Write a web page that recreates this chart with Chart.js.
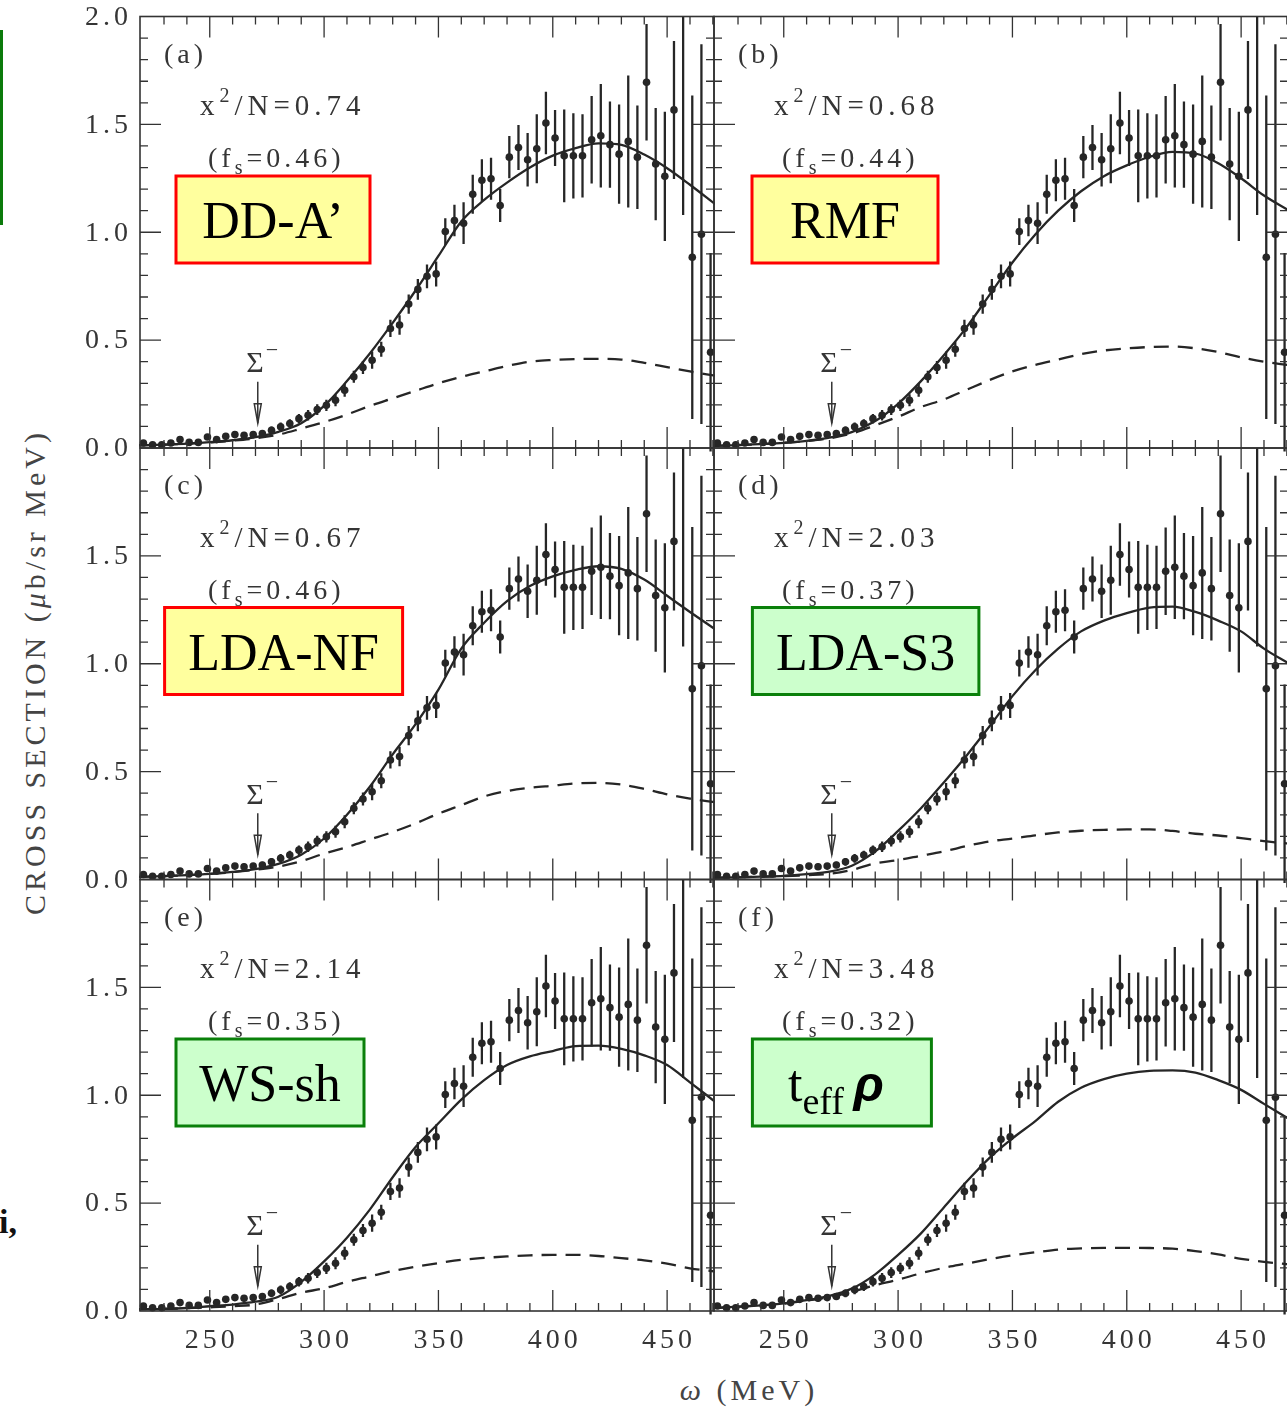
<!DOCTYPE html>
<html>
<head>
<meta charset="utf-8">
<script src="https://cdn.jsdelivr.net/npm/chart.js@4.4.1/dist/chart.umd.min.js"></script>
<style>
  html, body { margin: 0; padding: 0; background: #fff; overflow: hidden; width: 1287px; height: 1408px; }
  canvas { position: absolute; left: 0; top: 0; }
  #edgeBox { position: absolute; left: 0; top: 30px; width: 3px; height: 195px; background: #0b7a0b; }
  #edgeText { position: absolute; left: -1px; top: 1203px; font: bold 34px "Liberation Serif", serif; color: #111; }
  #yTitle { position: absolute; left: 35px; top: 672px; transform: translate(-50%, -50%) rotate(-90deg);
            white-space: nowrap; font: 30px "Liberation Serif", serif; letter-spacing: 4px; color: #444; }
  #xTitle { position: absolute; left: 749px; top: 1390px; transform: translate(-50%, -50%);
            white-space: nowrap; font: 30px "Liberation Serif", serif; letter-spacing: 4px; color: #444; }
</style>
</head>
<body>
<div id="edgeBox"></div>
<div id="edgeText">i,</div>
<div id="yTitle">CROSS SECTION (<i>μ</i>b/sr MeV)</div>
<div id="xTitle"><i>ω</i> (MeV)</div>
<canvas id="p0" width="1300" height="1408"></canvas>
<canvas id="p1" width="1300" height="1408"></canvas>
<canvas id="p2" width="1300" height="1408"></canvas>
<canvas id="p3" width="1300" height="1408"></canvas>
<canvas id="p4" width="1300" height="1408"></canvas>
<canvas id="p5" width="1300" height="1408"></canvas>
<script>
// ---- measured spectrum (same data in every panel) ----
const omega = [221,225,229,233,237,241,245,249,253,257,261,265,269,273,277,281,285,289,293,297,
               301,305,309,313,317,321,325,329,333,337,341,345,349,353,357,361,365,369,373,377,
               381,385,389,393,397,401,405,409,413,417,421,425,429,433,437,441,445,449,453,457,
               461,465,469];
const sigma = [0.023,0.015,0.015,0.023,0.039,0.026,0.026,0.051,0.039,0.054,0.062,0.059,0.062,0.067,0.082,
               0.098,0.113,0.136,0.152,0.178,0.198,0.221,0.268,0.330,0.373,0.407,0.458,0.554,0.570,0.667,
               0.735,0.796,0.807,1.003,1.054,1.042,1.176,1.241,1.248,1.124,1.348,1.393,1.336,1.387,1.506,
               1.437,1.354,1.354,1.354,1.429,1.447,1.406,1.362,1.421,1.348,1.695,1.316,1.259,1.567,2.25,
               0.884,0.991,0.444];
const sigmaErr = [0.012,0.012,0.012,0.012,0.012,0.012,0.012,0.012,0.012,0.012,0.015,0.015,0.015,0.015,0.018,
                  0.02,0.02,0.022,0.024,0.025,0.026,0.028,0.03,0.028,0.03,0.04,0.035,0.04,0.045,0.045,
                  0.048,0.055,0.058,0.062,0.073,0.097,0.09,0.097,0.097,0.077,0.098,0.104,0.124,0.16,0.145,
                  0.13,0.215,0.197,0.193,0.203,0.24,0.2,0.23,0.306,0.24,0.27,0.26,0.30,0.32,1.17,
                  0.75,0.88,0.46];

// ---- calculated spectra: total (solid) and Sigma-region part (dashed) ----
const omegaCurve = [219,230,240,250,260,270,280,290,300,310,320,330,340,350,360,370,380,390,400,410,420,430,440,450,460,471];
const totalA  = [0.012,0.016,0.02,0.027,0.036,0.05,0.075,0.115,0.195,0.31,0.438,0.58,0.73,0.89,1.05,1.15,1.23,1.30,1.355,1.39,1.412,1.405,1.36,1.297,1.22,1.13];
const dashedA = [0.012,0.016,0.02,0.026,0.034,0.045,0.062,0.09,0.12,0.155,0.195,0.23,0.265,0.30,0.33,0.355,0.38,0.40,0.408,0.412,0.413,0.41,0.395,0.375,0.355,0.335];
const totalB  = [0.01,0.013,0.018,0.024,0.033,0.048,0.075,0.125,0.205,0.31,0.43,0.56,0.71,0.86,0.99,1.10,1.19,1.26,1.31,1.35,1.373,1.365,1.32,1.25,1.17,1.10];
const dashedB = [0.01,0.013,0.018,0.024,0.032,0.045,0.068,0.105,0.145,0.19,0.225,0.27,0.315,0.355,0.385,0.41,0.435,0.452,0.462,0.468,0.47,0.462,0.445,0.42,0.4,0.384];
const totalC  = [0.012,0.016,0.02,0.026,0.035,0.048,0.072,0.115,0.19,0.30,0.43,0.58,0.72,0.88,1.07,1.19,1.29,1.36,1.405,1.435,1.452,1.44,1.39,1.315,1.24,1.16];
const dashedC = [0.012,0.016,0.02,0.026,0.034,0.045,0.06,0.085,0.12,0.15,0.185,0.22,0.26,0.305,0.345,0.385,0.41,0.425,0.435,0.445,0.448,0.44,0.42,0.395,0.375,0.358];
const totalD  = [0.008,0.01,0.013,0.017,0.025,0.036,0.065,0.13,0.225,0.33,0.45,0.575,0.71,0.85,0.97,1.07,1.15,1.20,1.235,1.26,1.265,1.24,1.2,1.15,1.07,1.0];
const dashedD = [0.008,0.01,0.013,0.016,0.02,0.026,0.045,0.075,0.09,0.11,0.13,0.155,0.177,0.19,0.205,0.218,0.226,0.23,0.232,0.232,0.225,0.212,0.204,0.192,0.178,0.166];
const totalE  = [0.008,0.01,0.014,0.022,0.03,0.043,0.066,0.135,0.23,0.34,0.47,0.62,0.76,0.87,0.98,1.07,1.14,1.18,1.205,1.228,1.23,1.215,1.185,1.14,1.06,0.97];
const dashedE = [0.008,0.01,0.013,0.017,0.022,0.03,0.055,0.085,0.105,0.135,0.16,0.185,0.205,0.222,0.237,0.246,0.253,0.258,0.26,0.26,0.255,0.245,0.235,0.22,0.198,0.183];
const totalF  = [0.014,0.02,0.026,0.035,0.05,0.07,0.105,0.17,0.26,0.36,0.48,0.6,0.71,0.8,0.88,0.97,1.035,1.075,1.1,1.113,1.115,1.105,1.07,1.025,0.96,0.89];
const dashedF = [0.014,0.02,0.026,0.034,0.048,0.065,0.09,0.12,0.145,0.175,0.2,0.22,0.24,0.258,0.272,0.285,0.29,0.293,0.293,0.292,0.289,0.278,0.262,0.242,0.228,0.216];

// ---- panel texts and tick labels ----
const panelTags  = ['(a)', '(b)', '(c)', '(d)', '(e)', '(f)'];
const chiValues  = ['0.74', '0.68', '0.67', '2.03', '2.14', '3.48'];
const fsValues   = ['0.46', '0.44', '0.46', '0.37', '0.35', '0.32'];
const modelNames = ['DD-A\u2019', 'RMF', 'LDA-NF', 'LDA-S3', 'WS-sh', 't_eff \u03c1'];
const yTickLabels = ['0.0', '0.5', '1.0', '1.5', '2.0'];
const xTickLabels = ['250', '300', '350', '400', '450'];
const sigmaThreshold = 271;   // Sigma- emission threshold, MeV

const totals  = [totalA, totalB, totalC, totalD, totalE, totalF];
const dashes  = [dashedA, dashedB, dashedC, dashedD, dashedE, dashedF];

// ---- layout ----
const CW = 1300, CH = 1408;
const X_MIN = 219.5, X_MAX = 470.5;
const COLS = [[140, 714], [714, 1288]];
const ROWS = [[16.5, 448], [448, 879.5], [879.5, 1311]];
const INK = '#262626';
const TEXT = '#353535';
const SERIF = '"Liberation Serif", "Times New Roman", serif';
// label boxes: [offset from panel left, width], yellow = red frame, green = green frame
const boxGeom = [[36, 194, 'y'], [38, 186, 'y'], [24.6, 238, 'y'], [38.4, 226.5, 'g'], [36, 188, 'g'], [38.4, 179, 'g']];

function segWidth(ctx, segs, spacing) {
  ctx.save();
  ctx.letterSpacing = spacing + 'px';
  let w = 0;
  for (const s of segs) { ctx.font = s.font; w += ctx.measureText(s.text).width; }
  ctx.restore();
  return w;
}
function drawSegs(ctx, segs, x, y, spacing, color) {
  ctx.save();
  ctx.letterSpacing = spacing + 'px';
  ctx.textAlign = 'left';
  ctx.textBaseline = 'alphabetic';
  ctx.fillStyle = color;
  let cx = x;
  for (const s of segs) {
    ctx.font = s.font;
    ctx.fillText(s.text, cx, y + (s.dy || 0));
    cx += ctx.measureText(s.text).width;
  }
  ctx.restore();
}

function decorPlugin(idx, col, row) {
  return {
    id: 'panelDecor',
    beforeDatasetsDraw(chart) {
      const { ctx, chartArea: a, scales: { x, y } } = chart;
      ctx.save();
      ctx.beginPath();
      ctx.rect(a.left, a.top, a.right - a.left, a.bottom - a.top + 12);
      ctx.clip();
      ctx.strokeStyle = INK;
      ctx.lineWidth = 2.3;
      ctx.beginPath();
      for (let i = 0; i < omega.length; i++) {
        const px = x.getPixelForValue(omega[i]);
        ctx.moveTo(px, y.getPixelForValue(sigma[i] - sigmaErr[i]));
        ctx.lineTo(px, y.getPixelForValue(sigma[i] + sigmaErr[i]));
      }
      ctx.stroke();
      ctx.restore();
    },
    afterDatasetsDraw(chart) {
      const { ctx, chartArea: a, scales: { x, y } } = chart;
      ctx.save();
      // frame
      ctx.strokeStyle = '#333';
      ctx.lineWidth = 1.6;
      ctx.strokeRect(a.left, a.top, a.right - a.left, a.bottom - a.top);
      // inward ticks on all four sides
      ctx.lineWidth = 1.3;
      ctx.beginPath();
      for (let v = 230; v < 471; v += 10) {
        const px = x.getPixelForValue(v);
        const len = (v % 50 === 0) ? 21 : 8;
        ctx.moveTo(px, a.bottom); ctx.lineTo(px, a.bottom - len);
        ctx.moveTo(px, a.top); ctx.lineTo(px, a.top + len);
      }
      for (let k = 1; k < 20; k++) {
        const py = y.getPixelForValue(k / 10);
        const len = (k % 5 === 0) ? 21 : 8;
        ctx.moveTo(a.left, py); ctx.lineTo(a.left + len, py);
        ctx.moveTo(a.right, py); ctx.lineTo(a.right - len, py);
      }
      ctx.stroke();

      ctx.fillStyle = TEXT;
      ctx.letterSpacing = '4px';
      ctx.font = '28px ' + SERIF;
      // y tick labels (left column only)
      if (col === 0) {
        ctx.textAlign = 'right';
        ctx.textBaseline = 'middle';
        for (const lab of yTickLabels) {
          const v = parseFloat(lab);
          if (v === 2 && row > 0) continue;
          ctx.fillText(lab, a.left - 8, y.getPixelForValue(v) + 1);
        }
      }
      // x tick labels (bottom row only)
      if (row === 2) {
        ctx.textAlign = 'center';
        ctx.textBaseline = 'middle';
        for (const lab of xTickLabels) {
          ctx.fillText(lab, x.getPixelForValue(parseFloat(lab)) + 2, a.bottom + 30);
        }
      }
      ctx.letterSpacing = '0px';

      // panel tag and fit quality
      const f28 = '28px ' + SERIF;
      const f29 = '29px ' + SERIF;
      drawSegs(ctx, [{ text: panelTags[idx], font: f28 }], a.left + 24, a.top + 46, 4, TEXT);
      drawSegs(ctx, [
        { text: 'x', font: f29 },
        { text: '2', font: '20px ' + SERIF, dy: -13 },
        { text: '/N=' + chiValues[idx], font: f29 }
      ], a.left + 60, a.top + 98.5, 5, TEXT);
      drawSegs(ctx, [
        { text: '(f', font: f28 },
        { text: 's', font: '20px ' + SERIF, dy: 7 },
        { text: '=' + fsValues[idx] + ')', font: f28 }
      ], a.left + 68, a.top + 150.5, 4, TEXT);

      // model label box
      const [bx, bw, kind] = boxGeom[idx];
      const bl = a.left + bx, bt = a.top + 159.5, bh = 87;
      ctx.fillStyle = kind === 'y' ? '#ffff9e' : '#ccffcc';
      ctx.fillRect(bl, bt, bw, bh);
      ctx.strokeStyle = kind === 'y' ? '#ff0000' : '#0a800a';
      ctx.lineWidth = 3;
      ctx.strokeRect(bl, bt, bw, bh);
      let segs;
      if (modelNames[idx].startsWith('t_eff')) {
        segs = [
          { text: 't', font: '52px ' + SERIF },
          { text: 'eff', font: '38px ' + SERIF, dy: 13 },
          { text: ' ', font: '38px ' + SERIF },
          { text: '\u03c1', font: 'italic bold 50px "Liberation Sans", Arial, sans-serif' }
        ];
      } else {
        segs = [{ text: modelNames[idx], font: '52px ' + SERIF }];
      }
      const tw = segWidth(ctx, segs, 0);
      const shift = modelNames[idx].startsWith('t_eff') ? -6 : 0;
      drawSegs(ctx, segs, bl + bw / 2 - tw / 2 + shift, bt + 62, 0, '#000');

      // Sigma- threshold marker
      const ax = x.getPixelForValue(sigmaThreshold);
      const yTop = y.getPixelForValue(0.307), yHead = y.getPixelForValue(0.205), yTip = y.getPixelForValue(0.115);
      ctx.strokeStyle = '#333';
      ctx.lineWidth = 1.5;
      ctx.beginPath();
      ctx.moveTo(ax, yTop); ctx.lineTo(ax, yTip);
      ctx.stroke();
      ctx.beginPath();
      ctx.moveTo(ax - 3.5, yHead); ctx.lineTo(ax + 3.5, yHead); ctx.lineTo(ax, yTip); ctx.closePath();
      ctx.stroke();
      const sb = y.getPixelForValue(0.35);
      ctx.fillStyle = TEXT;
      ctx.font = '30px ' + SERIF;
      ctx.textAlign = 'right';
      ctx.textBaseline = 'alphabetic';
      ctx.fillText('\u03a3', ax + 6, sb);
      ctx.textAlign = 'left';
      ctx.font = '22px ' + SERIF;
      ctx.fillText('\u2212', ax + 8, sb - 15);
      ctx.restore();
    }
  };
}

for (let idx = 0; idx < 6; idx++) {
  const col = idx % 2, row = Math.floor(idx / 2);
  const [l, r] = COLS[col], [t, b] = ROWS[row];
  const pts = omega.map((w, i) => ({ x: w, y: sigma[i] }));
  const solid = omegaCurve.map((w, i) => ({ x: w, y: totals[idx][i] }));
  const dash = omegaCurve.map((w, i) => ({ x: w, y: dashes[idx][i] }));
  new Chart(document.getElementById('p' + idx), {
    type: 'scatter',
    data: {
      datasets: [
        { data: pts, pointRadius: 3.8, pointBackgroundColor: INK, pointBorderWidth: 0, showLine: false, clip: 6, order: 0 },
        { type: 'line', data: solid, borderColor: INK, borderWidth: 2.3, pointRadius: 0, fill: false,
          cubicInterpolationMode: 'monotone', clip: 1, order: 1 },
        { type: 'line', data: dash, borderColor: INK, borderWidth: 2.3, borderDash: [15, 9], pointRadius: 0, fill: false,
          cubicInterpolationMode: 'monotone', clip: 1, order: 2 }
      ]
    },
    options: {
      responsive: false,
      animation: false,
      devicePixelRatio: 1,
      events: [],
      layout: { padding: { left: l, right: CW - r, top: t, bottom: CH - b } },
      plugins: { legend: { display: false }, tooltip: { enabled: false }, title: { display: false } },
      scales: {
        x: { type: 'linear', min: X_MIN, max: X_MAX, display: false },
        y: { type: 'linear', min: 0, max: 2, display: false }
      }
    },
    plugins: [decorPlugin(idx, col, row)]
  });
}
</script>
</body>
</html>
